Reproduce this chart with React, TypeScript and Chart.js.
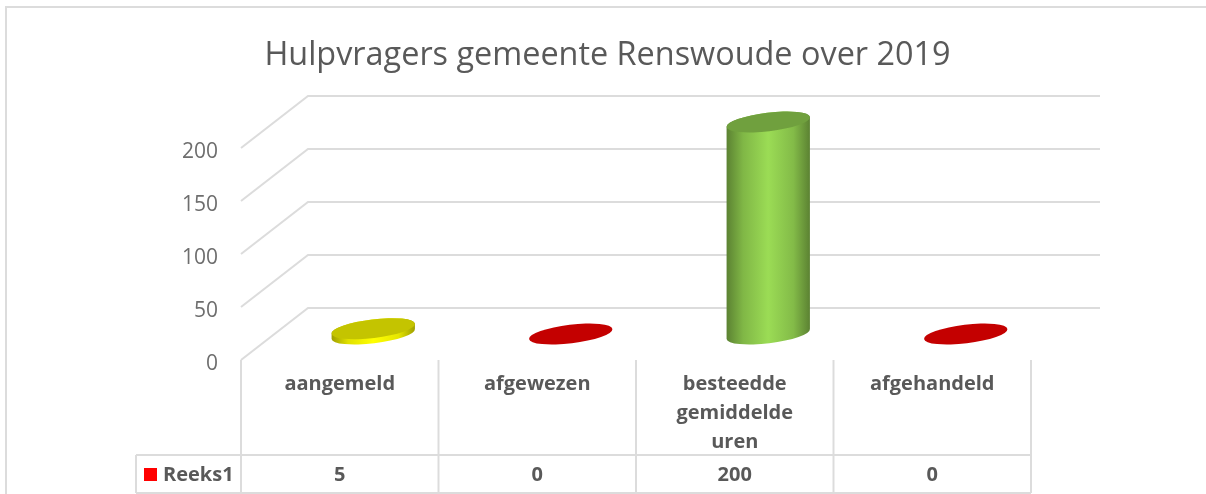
import React, { useEffect, useRef } from "react";
import { Chart, registerables } from "chart.js";

Chart.register(...registerables);

const titleText = "Hulpvragers gemeente Renswoude over 2019";
const seriesName = "Reeks1";
const categories: (string | string[])[] = ["aangemeld", "afgewezen", ["besteedde", "gemiddelde", "uren"], "afgehandeld"];
const values = [5, 0, 200, 0];
const barColors = ["#FFFF00", "#FF0000", "#92D050", "#FF0000"];
const yTicks = [0, 50, 100, 150, 200];

const FONT = "'Open Sans', sans-serif";
const LINE = "#dcdcdc";
const TEXT = "#595959";
const DEPTH_X = 33.5;
const DEPTH_Y = -26;
const BACK_RIGHT = 1100;
const TABLE_LEFT = 136;
const TABLE_TOP = 455;
const TABLE_BOTTOM = 493;
const TILT = -0.12;
const RY = 9.3;

function shade(hex: string, k: number): string {
  const n = parseInt(hex.slice(1), 16);
  const f = (v: number) => Math.min(255, Math.round(v * k));
  return `rgb(${f((n >> 16) & 255)},${f((n >> 8) & 255)},${f(n & 255)})`;
}

function seg(ctx: CanvasRenderingContext2D, x1: number, y1: number, x2: number, y2: number) {
  ctx.beginPath();
  ctx.moveTo(x1, y1);
  ctx.lineTo(x2, y2);
  ctx.stroke();
}

const scenePlugin = {
  id: "scene",
  beforeDraw(chart: any) {
    const { ctx, scales } = chart;
    const y = scales.y;
    ctx.save();
    ctx.fillStyle = "#ffffff";
    ctx.fillRect(0, 0, chart.width, chart.height);
    ctx.strokeStyle = LINE;
    ctx.lineWidth = 2;
    ctx.beginPath();
    ctx.moveTo(6, chart.height);
    ctx.lineTo(6, 7);
    ctx.lineTo(chart.width, 7);
    ctx.stroke();
    const left = chart.chartArea.left;
    y.ticks.forEach((t: any) => {
      const py = y.getPixelForValue(t.value);
      ctx.beginPath();
      ctx.moveTo(left, py);
      ctx.lineTo(left + DEPTH_X * 2, py + DEPTH_Y * 2);
      ctx.lineTo(BACK_RIGHT, py + DEPTH_Y * 2);
      ctx.stroke();
    });
    ctx.restore();
  },
  beforeDatasetsDraw(chart: any) {
    const { ctx } = chart;
    const meta = chart.getDatasetMeta(0);
    meta.data.forEach((bar: any) => {
      const color: string = bar.options.backgroundColor;
      const cx = bar.x + DEPTH_X;
      const topY = bar.y + DEPTH_Y;
      const baseY = bar.base + DEPTH_Y;
      const rx = bar.width / 2;
      ctx.save();
      if (baseY - topY > 0.5) {
        const g = ctx.createLinearGradient(cx - rx, 0, cx + rx, 0);
        g.addColorStop(0, shade(color, 0.62));
        g.addColorStop(0.2, shade(color, 0.88));
        g.addColorStop(0.5, shade(color, 1.06));
        g.addColorStop(0.8, shade(color, 0.9));
        g.addColorStop(1, shade(color, 0.62));
        ctx.fillStyle = g;
        ctx.beginPath();
        ctx.ellipse(cx, baseY, rx, RY, TILT, 0, Math.PI, false);
        ctx.ellipse(cx, topY, rx, RY, TILT, Math.PI, 0, false);
        ctx.closePath();
        ctx.fill();
      }
      ctx.fillStyle = shade(color, 0.77);
      ctx.beginPath();
      ctx.ellipse(cx, topY, rx, RY, TILT, 0, Math.PI * 2);
      ctx.fill();
      ctx.restore();
    });
    return false;
  },
  afterLayout(chart: any) {
    const t = chart.titleBlock;
    if (t) {
      t.left = 0;
      t.right = 1215;
    }
  },
  afterDraw(chart: any) {
    const { ctx, scales, chartArea } = chart;
    const x = scales.x;
    const ds = chart.data.datasets[0];
    ctx.save();
    ctx.strokeStyle = LINE;
    ctx.lineWidth = 2;
    seg(ctx, TABLE_LEFT, TABLE_TOP, chartArea.right, TABLE_TOP);
    seg(ctx, TABLE_LEFT, TABLE_BOTTOM, chartArea.right, TABLE_BOTTOM);
    seg(ctx, TABLE_LEFT, TABLE_TOP, TABLE_LEFT, TABLE_BOTTOM);
    const n = categories.length;
    const step = (chartArea.right - chartArea.left) / n;
    for (let i = 0; i <= n; i++) {
      const px = chartArea.left + step * i;
      seg(ctx, px, chartArea.bottom, px, TABLE_BOTTOM);
    }
    ctx.fillStyle = TEXT;
    ctx.font = `bold 20px ${FONT}`;
    ctx.textAlign = "center";
    ctx.textBaseline = "middle";
    ds.data.forEach((v: number, i: number) => {
      ctx.fillText(String(v), x.getPixelForValue(i), 475);
    });
    ctx.textAlign = "left";
    ctx.fillText(ds.label, 163, 475);
    ctx.fillStyle = "#FF0000";
    ctx.fillRect(144, 468, 13, 13);
    ctx.restore();
  },
};

export default function App() {
  const ref = useRef<HTMLCanvasElement>(null);
  useEffect(() => {
    const chart = new Chart(ref.current as HTMLCanvasElement, {
      type: "bar",
      data: {
        labels: categories as any,
        datasets: [
          {
            label: seriesName,
            data: values,
            backgroundColor: barColors,
            categoryPercentage: 1,
            barPercentage: 0.425,
          },
        ],
      },
      options: {
        responsive: false,
        animation: false,
        layout: { padding: { left: 0, right: 175, top: 0, bottom: 0 } },
        plugins: {
          legend: { display: false },
          tooltip: { enabled: false },
          title: {
            display: true,
            text: titleText,
            color: TEXT,
            font: { family: FONT, size: 32.4, weight: "normal", lineHeight: 1.2 },
            padding: { top: 36, bottom: 73.12 },
          },
        },
        scales: {
          x: {
            grid: { display: false, drawTicks: false },
            border: { display: false },
            ticks: {
              color: TEXT,
              font: { family: FONT, size: 20, weight: "bold", lineHeight: 1.45 },
              padding: 10,
              autoSkip: false,
              maxRotation: 0,
              minRotation: 0,
            },
            afterFit: (s: any) => {
              s.height = 134;
            },
          },
          y: {
            min: yTicks[0],
            max: yTicks[yTicks.length - 1],
            afterBuildTicks: (s: any) => {
              s.ticks = yTicks.map((value) => ({ value }));
            },
            grid: { display: false, drawTicks: false },
            border: { display: false },
            ticks: {
              color: "#6e6e6e",
              font: { family: FONT, size: 21 },
              padding: 23,
              labelOffset: 4,
            },
            afterFit: (s: any) => {
              s.width = 241;
            },
          },
        },
      },
      plugins: [scenePlugin as any],
    });
    return () => chart.destroy();
  }, []);
  return (
    <div style={{ position: "fixed", left: 0, top: 0, width: 1206, height: 494 }}>
      <canvas ref={ref} width={1206} height={494} style={{ display: "block" }} />
    </div>
  );
}
